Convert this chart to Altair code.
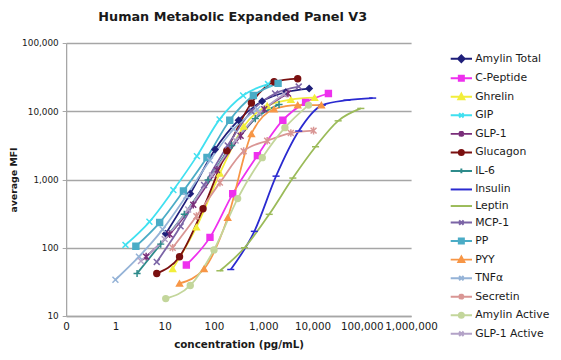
import altair as alt
import pandas as pd

series = ["Amylin Total", "C-Peptide", "Ghrelin", "GIP", "GLP-1", "Glucagon", "IL-6",
          "Insulin", "Leptin", "MCP-1", "PP", "PYY", "TNFα", "Secretin",
          "Amylin Active", "GLP-1 Active"]
colors = ["#1F1F7A", "#EE30EE", "#F2EE3A", "#40E0F0", "#7A2E7A", "#7A1010", "#2E8B8B",
          "#2A2AD0", "#9BBB59", "#7B64A6", "#4BACC6", "#F79646", "#95B3D7", "#D99694",
          "#C3D69B", "#B3A2C7"]
markers = ["diamond", "square", "triangle", "x", "star", "circle", "plus",
           "dash", "dash", "x", "square", "triangle", "x", "star",
           "circle", "x"]
marker_sizes = [36, 36, 36, 36, 40, 36, 30, 30, 30, 36, 64, 40, 36, 40, 50, 36]

# concentration (pg/mL) and average MFI per analyte
amylin_total_c = [10.5, 33, 105, 316, 950, 2850, 8550]
amylin_total_v = [160, 620, 2750, 7400, 14000, 19000, 21500]
c_peptide_c = [27.5, 83, 240, 760, 2500, 7240, 21000]
c_peptide_v = [56, 142, 617, 2240, 7400, 13500, 18200]
ghrelin_c = [14.5, 44, 132, 400, 1200, 3630, 11000]
ghrelin_v = [49, 200, 1230, 6000, 12000, 14800, 15800]
gip_c = [1.6, 4.9, 15, 45, 130, 390, 1250]
gip_v = [110, 240, 700, 2200, 7600, 17000, 25000]
glp1_c = [4.2, 12.6, 38, 115, 347, 1050, 3160]
glp1_v = [74, 158, 427, 1380, 4370, 10700, 18200]
glucagon_c = [6.9, 20, 60, 182, 575, 1660, 5000]
glucagon_v = [42, 74, 372, 2640, 13200, 27000, 30000]
il6_c = [2.75, 8.3, 25, 76, 229, 690, 2090]
il6_v = [42, 113, 309, 980, 3160, 7800, 12600]
insulin_c = [219, 660, 1820, 5250, 15800, 50000, 166000]
insulin_v = [48, 174, 1120, 5130, 12300, 14500, 15600]
leptin_c = [132, 417, 1320, 3980, 11500, 33100, 95500]
leptin_v = [46, 100, 309, 1050, 3020, 7240, 11000]
mcp1_c = [6.9, 21, 63, 190, 575, 1740, 5250]
mcp1_v = [62, 206, 830, 3160, 10000, 18200, 23000]
pp_c = [2.6, 7.9, 24, 72, 209, 630, 2000]
pp_v = [105, 234, 680, 2100, 7400, 17000, 25600]
pyy_c = [20, 63, 190, 575, 1660, 5000, 15100]
pyy_v = [30, 49, 275, 4650, 10700, 12300, 12300]
tnfa_c = [1.0, 3.0, 9.1, 27.5, 83, 251, 760]
tnfa_v = [34, 74, 186, 575, 1910, 5500, 10700]
secretin_c = [14.5, 44, 132, 400, 1200, 3630, 10500]
secretin_v = [100, 290, 900, 2600, 3700, 4800, 5200]
amylin_active_c = [10.5, 33, 100, 302, 955, 2750, 8300]
amylin_active_v = [18, 28, 93, 525, 2090, 5750, 12300]
glp1_active_c = [3.3, 10, 30, 91, 275, 830, 2630]
glp1_active_v = [64, 134, 363, 1150, 3720, 9330, 17800]

x_ticks = [0.1, 1, 10, 100, 1000, 10000, 100000, 1000000]
y_ticks = [10, 100, 1000, 10000, 100000]

all_c = [amylin_total_c, c_peptide_c, ghrelin_c, gip_c, glp1_c, glucagon_c, il6_c,
         insulin_c, leptin_c, mcp1_c, pp_c, pyy_c, tnfa_c, secretin_c,
         amylin_active_c, glp1_active_c]
all_v = [amylin_total_v, c_peptide_v, ghrelin_v, gip_v, glp1_v, glucagon_v, il6_v,
         insulin_v, leptin_v, mcp1_v, pp_v, pyy_v, tnfa_v, secretin_v,
         amylin_active_v, glp1_active_v]

rows = []
for name, cs, vs in zip(series, all_c, all_v):
    for i, (c, v) in enumerate(zip(cs, vs)):
        rows.append({"series": name, "conc": c, "mfi": v, "idx": i})
df = pd.DataFrame(rows)

plot_paths = {
    "diamond": "diamond",
    "square": "square",
    "triangle": "triangle-up",
    "circle": "circle",
    "x": "M-1,-1L1,1M-1,1L1,-1",
    "star": "M-1,-1L1,1M-1,1L1,-1M0,-1.3L0,1.3",
    "plus": "M-1.2,0L1.2,0M0,-1.2L0,1.2",
    "dash": "M-1.2,0L1.2,0",
}
L = "M-1.35,0H1.35"
legend_paths = {
    "diamond": L + "M0,-0.42L0.42,0L0,0.42L-0.42,0Z",
    "square": L + "M-0.32,-0.32H0.32V0.32H-0.32Z",
    "triangle": L + "M0,-0.4L0.38,0.3H-0.38Z",
    "circle": L + "M-0.32,0A0.32,0.32 0 1,0 0.32,0A0.32,0.32 0 1,0 -0.32,0Z",
    "x": L + "M-0.28,-0.28L0.28,0.28M-0.28,0.28L0.28,-0.28",
    "star": L + "M-0.28,-0.28L0.28,0.28M-0.28,0.28L0.28,-0.28M0,-0.36V0.36",
    "plus": L + "M0,-0.3V0.3",
    "dash": L,
}

font = "DejaVu Sans"
x_enc = alt.X("conc:Q",
              scale=alt.Scale(type="log", domain=[0.1, 1000000], nice=False),
              axis=alt.Axis(values=x_ticks,
                            labelExpr="datum.value < 1 ? '0' : format(datum.value, ',')",
                            grid=False, ticks=False, labelPadding=6, labelFontSize=10.5,
                            labelOverlap=False, labelFlush=False,
                            title="concentration (pg/mL)", titlePadding=7, titleFontSize=10.5))
y_enc = alt.Y("mfi:Q",
              scale=alt.Scale(type="log", domain=[10, 100000], nice=False),
              axis=alt.Axis(values=y_ticks, format=",", grid=True, ticks=True,
                            tickSize=4, labelPadding=4, labelFontSize=9,
                            title="average MFI", titleFontSize=9.5,
                            titleX=-53, titleY=138.5, titleBaseline="middle",
                            titleAlign="center", titleAngle=270))

color_scale = alt.Scale(domain=series, range=colors)

lines = alt.Chart(df).mark_line(interpolate="monotone", strokeWidth=1.8).encode(
    x=x_enc, y=y_enc,
    color=alt.Color("series:N", scale=color_scale, legend=None),
    order="idx:Q",
)

points = alt.Chart(df).mark_point(filled=True, opacity=1, strokeWidth=1.5).encode(
    x=x_enc, y=y_enc,
    color=alt.Color("series:N", scale=color_scale, legend=None),
    stroke=alt.Stroke("series:N", scale=color_scale, legend=None),
    shape=alt.Shape("series:N", scale=alt.Scale(domain=series, range=[plot_paths[m] for m in markers]), legend=None),
    size=alt.Size("series:N", scale=alt.Scale(domain=series, range=marker_sizes), legend=None),
)

def leg():
    return alt.Legend(title=None, orient="none", legendX=392, legendY=7,
                      symbolSize=256, symbolStrokeWidth=2,
                      labelFont=font, labelFontSize=11, labelColor="#1a1a1a",
                      labelOffset=5, rowPadding=2.8, padding=0, labelLimit=200)

legend_layer = alt.Chart(df).transform_filter("datum.mfi < 0").mark_point(
    filled=True, opacity=1, size=256, strokeWidth=2).encode(
    x=x_enc, y=y_enc,
    fill=alt.Fill("series:N", scale=color_scale, legend=leg()),
    stroke=alt.Stroke("series:N", scale=color_scale, legend=leg()),
    shape=alt.Shape("series:N", scale=alt.Scale(domain=series, range=[legend_paths[m] for m in markers]),
                    legend=leg()),
)

chart = alt.layer(lines, points, legend_layer).resolve_scale(
    shape="independent", fill="independent", stroke="independent", size="independent"
).properties(
    width=350, height=277,
    autosize=alt.AutoSizeParams(type="none"),
    padding={"left": 59, "top": 33, "right": 144, "bottom": 34},
    title=alt.Title("Human Metabolic Expanded Panel V3", font=font, fontSize=13,
                    fontWeight="bold", color="#1a1a1a", anchor="middle", offset=15, dx=-6),
).configure_view(stroke=None).configure_axis(
    labelFont=font, labelColor="#1a1a1a",
    titleFont=font, titleFontWeight="bold", titleColor="#1a1a1a",
    domainColor="#A6A6A6", domainWidth=1.3, gridColor="#A6A6A6", gridWidth=1.3,
    tickColor="#A6A6A6",
)

chart.save("out.html", embed_options={"renderer": "svg", "actions": False})
